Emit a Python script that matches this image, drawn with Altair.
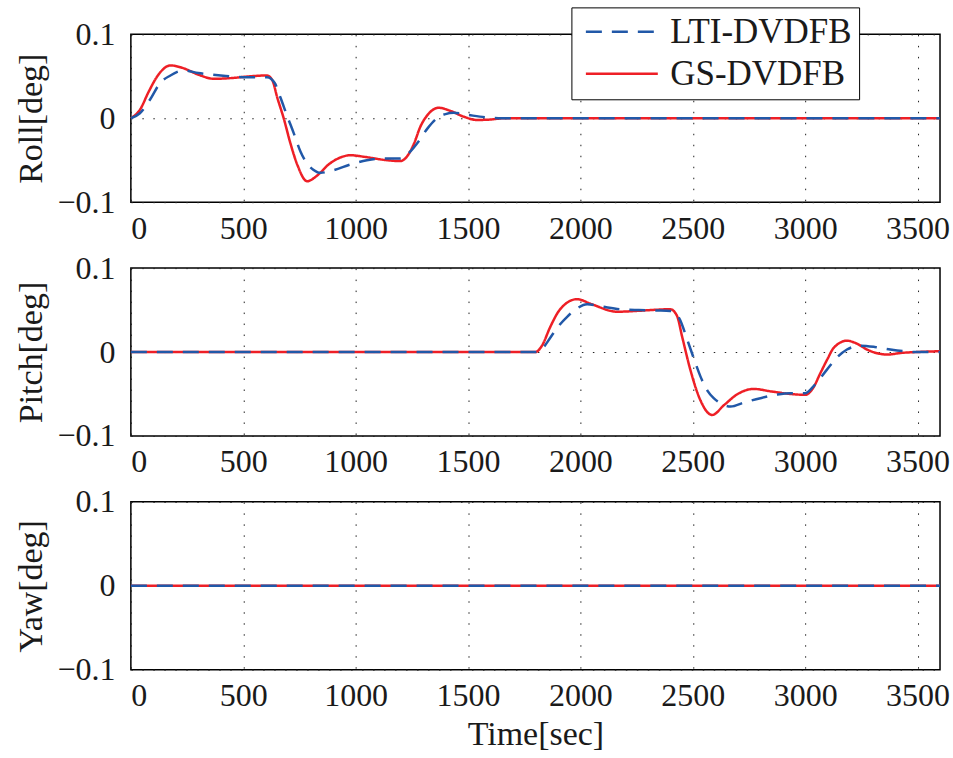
import altair as alt
import pandas as pd

# ---- data (time in seconds, attitude error in degrees) ----
SERIES = ["LTI-DVDFB", "GS-DVDFB"]
COLORS = ["#2158a8", "#ee1f26"]

roll_gs_t = [0, 40, 80, 120, 176, 230, 300, 370, 450, 530, 606, 630, 651, 680, 710, 740, 784,
             830, 880, 930, 977, 1040, 1140, 1199, 1230, 1260, 1288, 1320, 1370, 1420, 1480,
             1540, 1600, 1660, 1800, 3600]
roll_gs_v = [0, 0.010, 0.032, 0.051, 0.063, 0.060, 0.052, 0.047, 0.048, 0.050, 0.051, 0.045,
             0.025, 0.0, -0.030, -0.055, -0.075, -0.068, -0.055, -0.047, -0.044, -0.046,
             -0.050, -0.051, -0.045, -0.030, -0.010, 0.004, 0.0125, 0.009, 0.002, -0.002,
             -0.0015, 0.0, 0.0, 0.0]

roll_lti_t = [0, 40, 87, 130, 176, 235, 300, 400, 500, 606, 640, 665, 695, 725, 755, 784, 810,
              843, 900, 977, 1050, 1112, 1199, 1230, 1273, 1320, 1362, 1400, 1436, 1500, 1585,
              1650, 3600]
roll_lti_v = [0, 0.006, 0.023, 0.042, 0.051, 0.057, 0.054, 0.051, 0.049, 0.049, 0.042, 0.025,
              0.003, -0.018, -0.040, -0.054, -0.061, -0.065, -0.062, -0.055, -0.050, -0.048,
              -0.048, -0.043, -0.030, -0.012, 0.0, 0.005, 0.0065, 0.004, 0.001, 0.0, 0.0]

pitch_gs_t = [0, 1800, 1830, 1866, 1910, 1985, 2050, 2163, 2250, 2311, 2400, 2430, 2452, 2489,
              2530, 2586, 2640, 2700, 2771, 2850, 2934, 3001, 3035, 3068, 3100, 3127, 3186,
              3230, 3275, 3330, 3364, 3430, 3498, 3600]
pitch_gs_v = [0, 0, 0.008, 0.030, 0.051, 0.063, 0.057, 0.048, 0.049, 0.050, 0.051, 0.043, 0.019,
              -0.021, -0.055, -0.075, -0.063, -0.050, -0.044, -0.047, -0.050, -0.051, -0.043,
              -0.025, -0.008, 0.005, 0.0135, 0.010, 0.003, -0.002, -0.003, -0.001, 0.0, 0.001]

pitch_lti_t = [0, 1800, 1830, 1866, 1900, 1941, 1980, 2030, 2100, 2178, 2260, 2341, 2400, 2440,
               2475, 2505, 2534, 2565, 2593, 2630, 2668, 2730, 2801, 2870, 2934, 3001, 3040,
               3097, 3140, 3186, 3245, 3310, 3379, 3440, 3498, 3600]
pitch_lti_v = [0, 0, 0.004, 0.017, 0.030, 0.042, 0.051, 0.057, 0.054, 0.051, 0.050, 0.0495,
               0.049, 0.040, 0.015, -0.008, -0.029, -0.046, -0.055, -0.062, -0.065, -0.060,
               -0.055, -0.051, -0.049, -0.049, -0.040, -0.021, -0.007, 0.003, 0.0075, 0.006,
               0.003, 0.001, 0.0, 0.0]

yaw_t = [0, 3600]
yaw_gs_v = [0.0, 0.0]
yaw_lti_v = [0.0, 0.0]

X_TICKS = [0, 500, 1000, 1500, 2000, 2500, 3000, 3500]
Y_TICKS = [-0.1, 0, 0.1]

FONT = "Liberation Serif"
W, H = 810, 168

# a flat horizontal path; scaled by sqrt(symbolSize)/2, so 24 px -> 72 px long
LEGEND_LINE = "M-3,0H3"


def frame(gs_t, gs_v, lti_t, lti_v):
    gs = pd.DataFrame({"t": gs_t, "v": gs_v, "series": SERIES[1]})
    lti = pd.DataFrame({"t": lti_t, "v": lti_v, "series": SERIES[0]})
    return pd.concat([gs, lti], ignore_index=True)


def panel(df, ytitle, xtitle=None, legend=False):
    leg = None
    if legend:
        leg = alt.Legend(
            title=None, orient="none", legendX=441, legendY=-27,
            symbolType=LEGEND_LINE, symbolSize=576, symbolStrokeWidth=2.5,
            symbolOffset=26, labelOffset=31, labelLimit=400,
            labelFont=FONT, labelFontSize=35, labelColor="#1a1a1a",
            rowPadding=6, padding=7, strokeColor="black", fillColor="white",
        )
    x = alt.X(
        "t:Q", scale=alt.Scale(domain=[0, 3600], nice=False),
        axis=alt.Axis(values=X_TICKS, title=xtitle, grid=True, format="d",
                      labelFont=FONT, labelPadding=11, titlePadding=6),
    )
    y = alt.Y(
        "v:Q", scale=alt.Scale(domain=[-0.1, 0.1], nice=False),
        axis=alt.Axis(values=Y_TICKS, title=ytitle, grid=True, labelFont=FONT,
                      labelPadding=16, titlePadding=8,
                      labelExpr="datum.value == 0 ? '0' : replace(format(datum.value, '.1f'), '-', '\u2212')"),
    )
    color = alt.Color("series:N", scale=alt.Scale(domain=SERIES, range=COLORS), legend=leg)
    dash = alt.StrokeDash("series:N", scale=alt.Scale(domain=SERIES, range=[[16, 10], [1, 0]]),
                          legend=leg)
    base = alt.Chart(df).mark_line(strokeWidth=2.5, interpolate="monotone").encode(
        x=x, y=y, color=color, strokeDash=dash
    )
    red = base.transform_filter(alt.datum.series == SERIES[1])
    blue = base.transform_filter(alt.datum.series == SERIES[0])
    return alt.layer(red, blue).properties(width=W, height=H)


roll = panel(frame(roll_gs_t, roll_gs_v, roll_lti_t, roll_lti_v), "Roll[deg]", legend=True)
pitch = panel(frame(pitch_gs_t, pitch_gs_v, pitch_lti_t, pitch_lti_v), "Pitch[deg]")
yaw = panel(frame(yaw_t, yaw_gs_v, yaw_t, yaw_lti_v), "Yaw[deg]", xtitle="Time[sec]")

chart = alt.vconcat(roll, pitch, yaw, spacing=66, bounds="flush").resolve_legend(
    color="independent", strokeDash="independent"
).configure(
    padding={"left": 14, "top": 5, "right": 2, "bottom": 3},
    background="white",
    font=FONT,
).configure_view(
    stroke="black", strokeWidth=1.5
).configure_axis(
    domain=False, ticks=False,
    labelFont=FONT, labelFontSize=32, labelColor="#1a1a1a",
    titleFont=FONT, titleFontSize=34, titleFontWeight="normal", titleColor="#1a1a1a",
    gridColor="#222222", gridDash=[1.5, 9.5], gridWidth=1, gridOpacity=1,
).configure_legend(
    labelFont=FONT
)

chart.save("out.html", embed_options={"renderer": "svg", "actions": False})
